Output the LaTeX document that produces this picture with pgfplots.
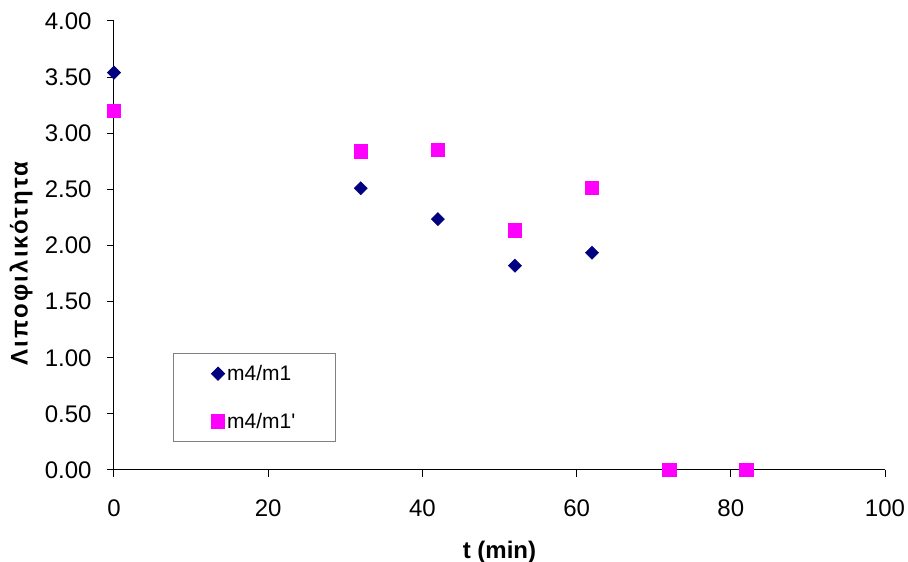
\documentclass[border=0pt]{standalone}
\usepackage{fontspec}
\setmainfont{Liberation Sans}
\newfontfamily\labelfont[LetterSpace=9]{Liberation Sans}
\usepackage{pgfplots}
\pgfplotsset{compat=1.18}
\definecolor{seriesnavy}{HTML}{000080}
\definecolor{seriesmagenta}{HTML}{FF00FF}
\definecolor{legendframe}{HTML}{808080}

\begin{document}
\begin{tikzpicture}[x=1pt,y=1pt]
\useasboundingbox (0,0) rectangle (908,562);
\begin{axis}[
  at={(114pt,92pt)}, anchor=south west,
  scale only axis, width=771pt, height=449pt,
  xmin=0, xmax=100, ymin=0, ymax=4,
  clip=false,
  axis x line=bottom, axis y line=left,
  axis line style={-, line width=1pt, black},
  xtick={0,20,...,100}, ytick={0,0.5,...,4},
  minor tick num=0,
  tick align=outside, major tick length=7pt,
  tick style={black, line width=1pt},
  ticklabel style={font=\fontsize{24}{28}\selectfont},
  /pgf/number format/assume math mode=true,
  yticklabel style={xshift=-12pt,
    /pgf/number format/.cd, fixed, fixed zerofill, precision=2},
  xticklabel style={yshift=-19pt, /pgf/number format/.cd, fixed},
  xlabel={t (min)}, ylabel={\labelfont\bfseries Λιποφιλικότητα},
  xlabel style={font=\bfseries\fontsize{24}{28}\selectfont,
    at={(axis description cs:0.5,-0.183)}, anchor=center},
  ylabel style={font=\fontsize{24}{28}\selectfont,
    at={(axis description cs:-0.1206,0.46)}, anchor=center},
  legend style={at={(axis description cs:0.0765,0.2606)}, anchor=north west,
    draw=legendframe, line width=0.8pt, font=\fontsize{21}{25}\selectfont,
    inner xsep=38pt, inner ysep=10pt, row sep=27pt,
    nodes={inner xsep=2.5pt, inner ysep=2pt}},
  legend cell align=left,
  legend image code/.code={\draw[#1] plot coordinates {(6pt,0pt)};},
]
\addplot[only marks, mark=square*, mark size=4.7pt,
  mark options={rotate=45, fill=seriesnavy, draw=seriesnavy}]
  coordinates {(0,3.54) (32,2.51) (42,2.235) (52,1.82) (62,1.935) (72,0) (82,0)};
\addlegendentry{m4/m1}
\addplot[only marks, mark=square*, mark size=6.6pt,
  mark options={fill=seriesmagenta, draw=seriesmagenta}]
  coordinates {(0,3.20) (32,2.84) (42,2.855) (52,2.137) (62,2.514) (72,0) (82,0)};
\addlegendentry{m4/m1\textquotesingle}
\end{axis}
\end{tikzpicture}
\end{document}
